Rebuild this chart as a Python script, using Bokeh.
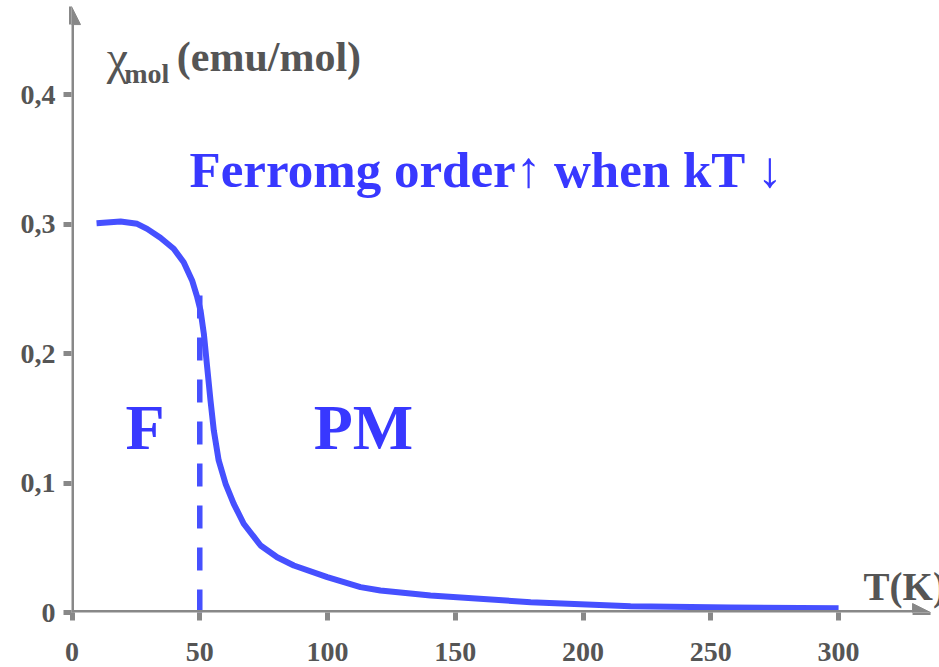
from bokeh.plotting import figure
from bokeh.models import Range1d, FixedTicker, Label, Arrow, NormalHead
from bokeh.embed import file_html
from bokeh.resources import INLINE

# ---- data ----
T_K = [9.6, 19.0, 25.5, 29.4, 34.6, 39.8, 43.7, 47.0, 49.0, 50.3, 51.6, 52.9,
       54.2, 55.5, 57.4, 60.1, 63.3, 67.2, 73.8, 80.3, 86.8, 99.9, 112.9,
       120.7, 140.3, 179.5, 218.6, 257.8, 300]
chi_mol = [0.3009, 0.3022, 0.3004, 0.2965, 0.2896, 0.2811, 0.2707, 0.2566,
           0.2437, 0.2334, 0.2154, 0.1896, 0.1638, 0.1406, 0.1175, 0.0995,
           0.0840, 0.0686, 0.0518, 0.0427, 0.0363, 0.0273, 0.0196, 0.0170,
           0.0131, 0.0080, 0.0049, 0.0039, 0.0033]
Tc = 50
Tc_line_top = 0.245
x_ticks = [0, 50, 100, 150, 200, 250, 300]
y_ticks = [0, 0.1, 0.2, 0.3, 0.4]
y_tick_labels = ["0", "0,1", "0,2", "0,3", "0,4"]
x_axis_end = 336.0
y_axis_end = 0.4683

GRAY = "#888888"
TXT = "#555555"
BLUE_LINE = "#4650ff"
BLUE_TXT = "#3838ff"
SERIF = "Liberation Serif"

p = figure(width=939, height=667, output_backend="svg", toolbar_location=None,
           x_range=Range1d(-0.2, 339.5), y_range=Range1d(0, 0.473),
           min_border_left=71, min_border_right=0, min_border_top=0,
           min_border_bottom=55)
p.outline_line_color = None
p.grid.visible = False
p.background_fill_color = "white"
p.border_fill_color = "white"

for ax in (p.xaxis[0], p.yaxis[0]):
    ax.axis_line_color = None
    ax.major_tick_line_color = GRAY
    ax.major_tick_line_width = 5
    ax.major_tick_in = 0
    ax.major_tick_out = 8
    ax.minor_tick_line_color = None
    ax.major_label_text_font = SERIF
    ax.major_label_text_font_style = "bold"
    ax.major_label_text_color = TXT

p.xaxis.ticker = FixedTicker(ticks=x_ticks)
p.xaxis.major_label_text_font_size = "28px"
p.xaxis.major_label_standoff = 22
p.yaxis.ticker = FixedTicker(ticks=y_ticks)
p.yaxis.major_label_overrides = {t: s for t, s in zip(y_ticks, y_tick_labels)}
p.yaxis.major_label_text_font_size = "28px"
p.yaxis.major_label_standoff = 8

# axis lines with arrow heads
p.add_layout(Arrow(end=NormalHead(size=18, fill_color=GRAY, line_color=GRAY),
                   x_start=-0.2, y_start=0, x_end=x_axis_end, y_end=0,
                   line_color=GRAY, line_width=5))
p.add_layout(Arrow(end=NormalHead(size=18, fill_color=GRAY, line_color=GRAY),
                   x_start=-0.2, y_start=-0.0075, x_end=-0.2, y_end=y_axis_end,
                   line_color=GRAY, line_width=5))

# transition line and curve
p.line([Tc, Tc], [Tc_line_top, 0], line_color=BLUE_LINE, line_width=5.5,
       line_dash="23 19")
p.line(T_K, chi_mol, line_color=BLUE_LINE, line_width=6, line_join="round")

def lab(x, y, text, size, color, style="bold"):
    p.add_layout(Label(x=x, y=y, text=text, text_font=SERIF, text_font_style=style,
                       text_font_size=size, text_color=color,
                       text_baseline="alphabetic", text_align="left"))

lab(46.0, 0.3423, "Ferromg order\u2191 when kT \u2193", "51px", BLUE_TXT)
lab(20.9, 0.1433, "F", "64px", BLUE_TXT)
lab(94.6, 0.1433, "PM", "64px", BLUE_TXT)
lab(13.6, 0.4289, "\u03c7", "48px", TXT, "normal")
lab(20.4, 0.4164, "mol", "28px", TXT)
lab(41.0, 0.4294, "(emu/mol)", "42px", TXT)
lab(309.8, 0.0198, "T(K)", "39px", TXT)

open("out.html", "w").write(file_html(p, INLINE))
